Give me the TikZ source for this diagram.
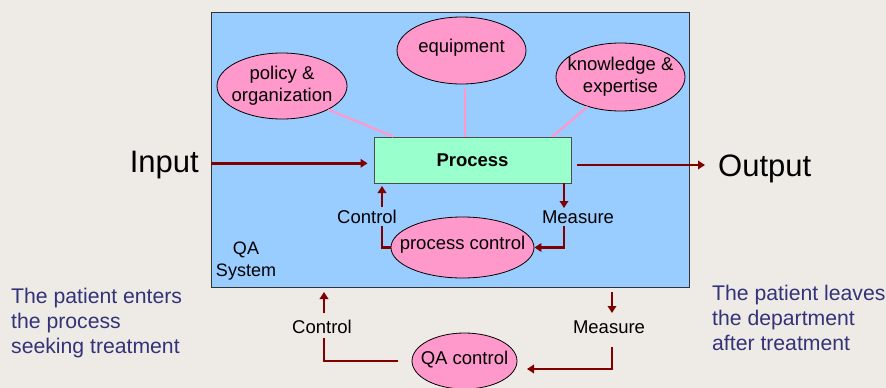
\documentclass[tikz,border=0pt]{standalone}
\usepackage{fontspec}
\setmainfont{Liberation Sans}
\usetikzlibrary{shapes.geometric,arrows.meta,calc}
\definecolor{bgc}{HTML}{EEEBE6}
\definecolor{qablue}{HTML}{99CCFF}
\definecolor{procgreen}{HTML}{99FFCC}
\definecolor{pinkfill}{HTML}{FF99CC}
\definecolor{arrred}{HTML}{800000}
\definecolor{notecol}{HTML}{333377}
\tikzset{
  arr/.style={draw=arrred,line width=2.7pt,-{Triangle[length=7pt,width=8.5pt]}},
  plainarr/.style={draw=arrred,line width=2.7pt},
  pinkline/.style={draw=pinkfill,line width=2.2pt},
  ell/.style={ellipse,draw=black,line width=0.8pt,fill=pinkfill,inner sep=0pt},
  elltext/.style={inner sep=0pt,align=center,font=\fontsize{18.5}{22}\selectfont},
  lbl/.style={inner sep=0pt,font=\fontsize{18.5}{22}\selectfont},
  big/.style={inner sep=0pt,font=\fontsize{31}{36}\selectfont},
  note/.style={inner sep=0pt,align=left,text=notecol,font=\fontsize{21.2}{25}\selectfont,anchor=base west}
}
\begin{document}
\begin{tikzpicture}[x=1pt,y=-1pt]
\fill[bgc] (0,0) rectangle (886,388);
\useasboundingbox (0,0) rectangle (886,388);
% QA system box
\node[draw=black!80,line width=0.9pt,fill=qablue,minimum width=477.5pt,minimum height=274.5pt,inner sep=0pt] (qa) at (450.25,149.75) {};
% process
\node[draw=black!70,line width=0.9pt,fill=procgreen,minimum width=197pt,minimum height=46pt,inner sep=0pt,
  font=\fontsize{18.5}{22}\selectfont\bfseries] (proc) at (472.5,160) {Process};
% ellipses
\node[ell,minimum width=130pt,minimum height=66pt,label={[elltext]center:policy \&\\organization}] (pol) at (282,86) {};
\node[ell,minimum width=129pt,minimum height=67pt,label={[elltext,yshift=3pt]center:equipment}] (equip) at (461.5,50.5) {};
\node[ell,minimum width=129pt,minimum height=68pt,label={[elltext]center:knowledge \&\\expertise}] (know) at (620.5,77) {};
\node[ell,minimum width=143pt,minimum height=61pt,label={[elltext,yshift=3pt]center:process control}] (pc) at (462.5,247.5) {};
\node[ell,minimum width=105pt,minimum height=56pt,label={[elltext,yshift=1.5pt]center:QA control}] (qac) at (464.5,361) {};
% pink links
\draw[pinkline] (pol.-27) -- ($(proc.north west)!0.1!(proc.north east)$);
\coordinate (eqb) at (465,88);
\draw[pinkline] (eqb) -- (eqb |- proc.north);
\draw[pinkline] (know.222) -- ($(proc.north west)!0.904!(proc.north east)$);
% labels
\node[big,anchor=base east] (inp) at (199,172.5) {Input};
\node[big,anchor=base west] (outp) at (718,176) {Output};
\node[lbl] (ctl1) at (367,217) {Control};
\node[lbl] (mes1) at (578,217) {Measure};
\node[lbl] (ctl2) at (322,327) {Control};
\node[lbl] (mes2) at (609,327) {Measure};
\node[lbl,align=center,font=\fontsize{18}{22}\selectfont] (qasys) at (246,261) {QA\\System};
\node[note] (leftnote) at (11,353) {The patient enters\\the process\\seeking treatment};
\node[note] (rightnote) at (712,350.5) {The patient leaves\\the department\\after treatment};
% input / output arrows
\coordinate (inS) at (211,163.3);
\draw[arr,shorten >=6pt] (inS) -- (inS -| proc.west);
\coordinate (outS) at (577,165);
\coordinate (outE) at (705,165);
\draw[arr] (outS) -- (outE);
% inner control loop
\coordinate (c1a) at (382,226);
\coordinate (c1b) at (382,207);
\coordinate (c1c) at (382,186);
\draw[plainarr] (pc.west) -| (c1a);
\draw[arr] (c1b) -- (c1c);
\coordinate (m1a) at (564,183);
\coordinate (m1b) at (564,208);
\coordinate (m1c) at (564,226);
\draw[arr] (m1a) -- (m1b);
\draw[arr] (m1c) |- (pc.east);
% outer control loop
\coordinate (c2a) at (324,313);
\coordinate (c2b) at (324,292);
\coordinate (c2c) at (324,338);
\draw[arr] (c2a) -- (c2b);
\draw[plainarr,shorten <=14pt] (qac.west) -| (c2c);
\coordinate (m2a) at (612,292);
\coordinate (m2b) at (612,313);
\coordinate (m2c) at (612,347);
\coordinate (m2d) at (527,369);
\draw[arr] (m2a) -- (m2b);
\draw[arr] (m2c) |- (m2d);
\end{tikzpicture}
\end{document}
